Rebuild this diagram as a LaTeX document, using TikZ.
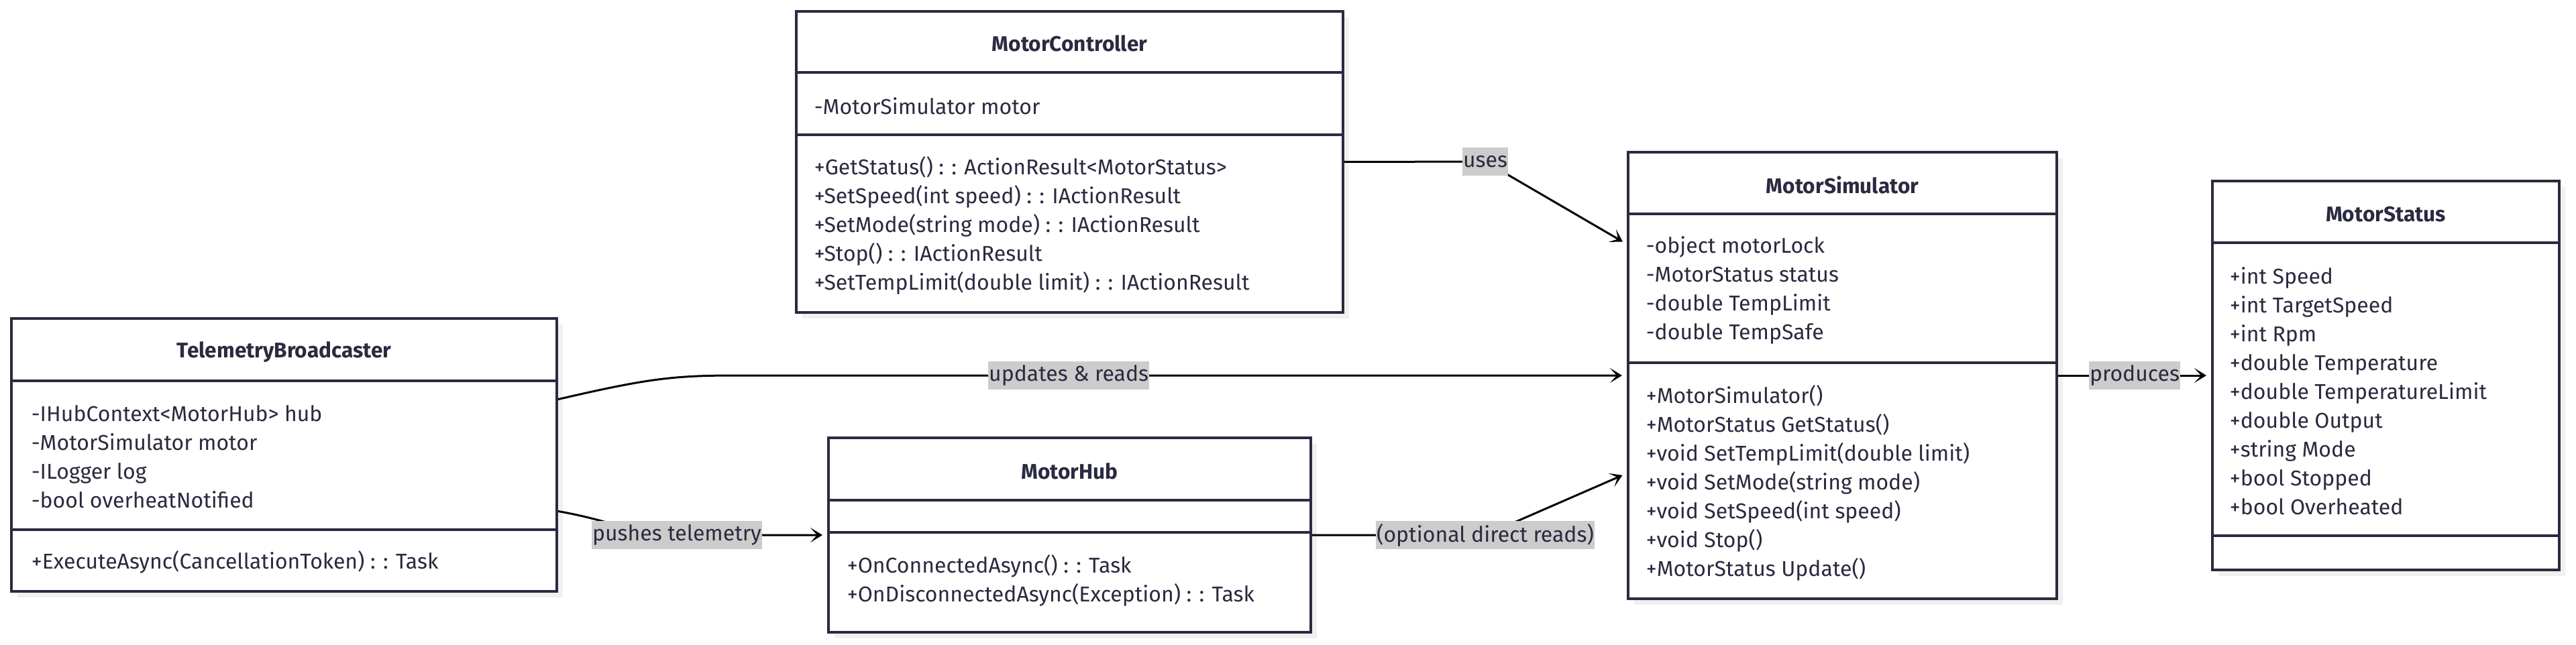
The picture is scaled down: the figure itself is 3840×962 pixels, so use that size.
\documentclass[tikz,border=0pt]{standalone}
\usepackage{fontspec}
\setmainfont{Fira Sans}
\usetikzlibrary{arrows.meta,shadows}

\definecolor{classline}{RGB}{42,42,64}
\definecolor{labelbg}{RGB}{204,204,204}
\definecolor{shade}{RGB}{240,240,240}

\tikzset{
  classbox/.style={draw=classline, line width=1pt, fill=white, inner sep=0pt,
    drop shadow={shadow xshift=2.25pt, shadow yshift=-2.25pt, fill=shade, opacity=1}},
  sepline/.style={draw=classline, line width=1pt},
  classname/.style={font=\fontsize{7.9}{9}\selectfont\bfseries, text=classline},
  members/.style={anchor=west, align=left, inner sep=0pt, text=classline,
    font=\fontsize{8}{10.75}\selectfont},
  conn/.style={->, line width=0.75pt, shorten >=1.75pt},
  elabel/.style={fill=labelbg, text=classline, inner xsep=0.3pt, inner ysep=0pt,
    minimum height=10.5pt, font=\fontsize{8}{9}\selectfont},
  >={Stealth[length=4.5pt,width=5.5pt,inset=2.5pt]}
}

\begin{document}
\begin{tikzpicture}[x=0.25pt, y=-0.25pt]
\useasboundingbox (0,0) rectangle (3840,962);

% MotorController
\node[classbox, minimum width=203.75pt, minimum height=112.25pt] (mc) at (1594.5,241.5) {};
\draw[sepline] (1187,108) -- (2002,108); \draw[sepline] (1187,201) -- (2002,201);
\node[classname] (mc-name) at (1594.5,65) {MotorController};
\node[members] (mc-attr) at (1213,158) {-MotorSimulator motor};
\node[members] (mc-ops) at (1213,336) {+GetStatus() : : ActionResult<MotorStatus>\\
  +SetSpeed(int speed) : : IActionResult\\ +SetMode(string mode) : : IActionResult\\
  +Stop() : : IActionResult\\ +SetTempLimit(double limit) : : IActionResult};

% TelemetryBroadcaster
\node[classbox, minimum width=203.25pt, minimum height=101.75pt] (tb) at (423.5,678.5) {};
\draw[sepline] (17,568) -- (830,568); \draw[sepline] (17,790) -- (830,790);
\node[classname] (tb-name) at (423.5,525) {TelemetryBroadcaster};
\node[members] (tb-attr) at (46,681) {-IHubContext<MotorHub> hub\\ -MotorSimulator motor\\
  -ILogger log\\ -bool overheatNotified};
\node[members] (tb-ops) at (46,838) {+ExecuteAsync(CancellationToken) : : Task};

% MotorHub
\node[classbox, minimum width=179.75pt, minimum height=72.5pt] (mh) at (1594.5,798) {};
\draw[sepline] (1235,746) -- (1954,746); \draw[sepline] (1235,794) -- (1954,794);
\node[classname] (mh-name) at (1594.5,703) {MotorHub};
\node[members] (mh-ops) at (1262,866) {+OnConnectedAsync() : : Task\\
  +OnDisconnectedAsync(Exception) : : Task};

% MotorSimulator
\node[classbox, minimum width=159.75pt, minimum height=166.5pt] (ms) at (2746.5,560) {};
\draw[sepline] (2427,319) -- (3066,319); \draw[sepline] (2427,541) -- (3066,541);
\node[classname] (ms-name) at (2746.5,276) {MotorSimulator};
\node[members] (ms-attr) at (2453,433) {-object motorLock\\ -MotorStatus status\\
  -double TempLimit\\ -double TempSafe};
\node[members] (ms-ops) at (2453,720) {+MotorSimulator()\\ +MotorStatus GetStatus()\\
  +void SetTempLimit(double limit)\\ +void SetMode(string mode)\\
  +void SetSpeed(int speed)\\ +void Stop()\\ +MotorStatus Update()};

% MotorStatus
\node[classbox, minimum width=129.25pt, minimum height=145pt] (mst) at (3556.5,560) {};
\draw[sepline] (3298,362) -- (3815,362); \draw[sepline] (3298,799) -- (3815,799);
\node[classname] (mst-name) at (3556.5,320) {MotorStatus};
\node[members] (mst-attr) at (3323,583.5) {+int Speed\\ +int TargetSpeed\\ +int Rpm\\
  +double Temperature\\ +double TemperatureLimit\\ +double Output\\ +string Mode\\
  +bool Stopped\\ +bool Overheated};

% connectors
\draw[conn] (mc.east) -- (2214,241) node[elabel] (l-uses) {uses} -- ([yshift=49pt]ms.west);
\draw[conn] ([yshift=20.75pt]tb.east) .. controls (960,566) and (1000,560) .. (1094,560)
  -- node[elabel, pos=0.375] (l-upd) {updates \& reads} (ms.west);
\draw[conn] ([yshift=-21pt]tb.east) .. controls (910,776) and (950,798) .. (1009,798)
  node[elabel] (l-push) {pushes telemetry} -- (mh.west);
\draw[conn] (mh.east) -- (2214,798) node[elabel] (l-opt) {(optional direct reads)}
  -- ([yshift=-36.5pt]ms.west);
\draw[conn] (ms.east) -- node[elabel] (l-prod) {produces} (mst.west);

\end{tikzpicture}
\end{document}
